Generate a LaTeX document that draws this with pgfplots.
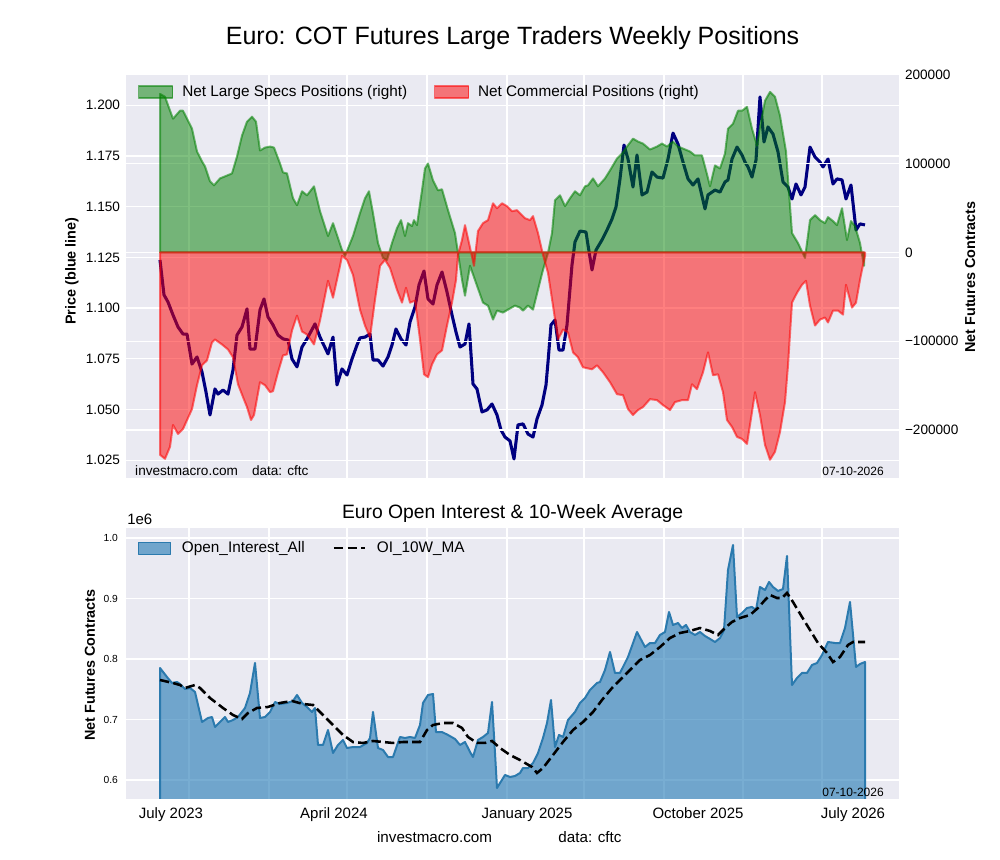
\documentclass[border=0pt]{standalone}
\usepackage{fontspec}
\setmainfont{Liberation Sans}
\usepackage{pgfplots}
\pgfplotsset{compat=1.18}
\usepackage{pgfplotstable}
\definecolor{bg}{HTML}{EAEAF2}
\definecolor{mplgreen}{HTML}{008000}
\definecolor{mplred}{HTML}{FF0000}
\definecolor{navyc}{HTML}{000080}
\definecolor{oiblue}{HTML}{1F77B4}
\definecolor{oiedge}{HTML}{2B7AAE}
\newcommand{\fs}[1]{\fontsize{#1}{1.2\dimexpr#1\relax}\selectfont}

% x = weekly time position (chart time scale), price in USD
\pgfplotstableread{
x p
160 1.1237
164 1.1065
168 1.1030
173 1.0966
178 1.0907
183 1.0872
187 1.0872
192 1.0724
197 1.0759
202 1.0685
206 1.0586
210 1.0473
215 1.0601
218 1.0576
223 1.0596
228 1.0576
233 1.0695
237 1.0867
242 1.0907
247 1.0996
250 1.0798
255 1.0798
260 1.0991
264 1.1045
268 1.0956
273 1.0917
278 1.0867
283 1.0848
288 1.0843
292 1.0749
297 1.0710
302 1.0808
307 1.0848
315 1.0922
320 1.0857
328 1.0774
333 1.0857
337 1.0621
342 1.0700
347 1.0670
352 1.0749
357 1.0818
360 1.0853
365 1.0857
370 1.0872
373 1.0744
378 1.0744
383 1.0714
388 1.0759
392 1.0818
396 1.0897
401 1.0848
406 1.0818
410 1.0931
415 1.1005
419 1.1114
424 1.1183
428 1.1045
433 1.1020
437 1.1114
442 1.1178
447 1.1079
452 1.0966
456 1.0882
460 1.0808
465 1.0823
469 1.0922
473 1.0626
477 1.0601
482 1.0488
487 1.0498
492 1.0527
497 1.0473
501 1.0399
505 1.0364
510 1.0345
514 1.0256
518 1.0424
523 1.0429
528 1.0379
533 1.0364
537 1.0453
542 1.0522
546 1.0621
548 1.0734
551 1.0917
555 1.0941
559 1.0793
563 1.0793
567 1.0917
572 1.1213
575 1.1326
580 1.1380
586 1.1375
588 1.1311
592 1.1188
596 1.1286
602 1.1336
607 1.1385
612 1.1439
616 1.1499
620 1.1637
624 1.1804
628 1.1735
633 1.1597
637 1.1755
642 1.1558
647 1.1572
652 1.1671
657 1.1646
663 1.1641
668 1.1735
673 1.1863
678 1.1809
683 1.1720
688 1.1637
693 1.1607
698 1.1637
705 1.1489
708 1.1558
715 1.1582
720 1.1572
725 1.1622
728 1.1632
732 1.1735
737 1.1794
742 1.1755
745 1.1720
748 1.1696
752 1.1646
756 1.1730
760 1.2041
764 1.1819
768 1.1893
773 1.1858
778 1.1770
783 1.1622
788 1.1597
792 1.1538
796 1.1612
801 1.1558
805 1.1597
810 1.1794
815 1.1745
820 1.1720
823 1.1696
828 1.1735
833 1.1612
837 1.1637
842 1.1632
846 1.1538
851 1.1607
856 1.1385
860 1.1415
865 1.1410
}\price

\pgfplotstableread{
x v
160 178600
165 175300
173 150600
180 159600
183 159600
192 139400
197 113700
202 102500
205 96900
210 80100
214 75600
220 83400
225 85700
232 89000
237 108100
242 131600
247 147300
252 152900
256 147300
260 114800
265 118100
270 119300
274 118100
280 100200
283 90100
287 89000
293 61000
297 53200
302 68900
307 64400
314 74500
320 46500
328 18500
333 33000
342 2800
345 -3900
353 18500
360 44200
365 61000
369 68900
373 44200
378 10600
383 -6200
387 -8400
392 10600
397 27400
401 36400
405 18500
408 33000
412 29700
414 36400
417 30800
422 70000
425 94600
428 100200
433 81200
438 70000
442 71100
448 47600
455 21800
458 -600
462 -30800
465 -48700
470 -15000
477 -37500
483 -56500
488 -59900
493 -75600
497 -65500
503 -67700
508 -64400
515 -59900
520 -62100
523 -65500
528 -59900
533 -64400
538 -42000
543 -19600
548 -600
552 21800
555 58800
560 64400
565 52100
570 61000
575 68900
580 64400
585 74500
588 75600
593 83400
598 74500
605 83400
610 92400
617 105800
622 111400
627 119300
633 128200
638 124900
643 122600
650 115900
657 119300
662 122600
667 119300
673 124900
678 119300
683 117000
690 113700
695 109200
702 109200
706 92400
710 74500
715 98000
720 94600
725 111400
728 139400
733 145000
738 159600
742 159600
747 164000
752 139400
757 120400
760 141700
765 170800
770 180800
775 175300
780 154000
786 113700
790 52100
792 21800
798 10600
805 -6200
810 36400
815 42000
820 36400
825 33000
828 39800
833 35300
837 30800
842 49800
847 14000
851 35300
855 29700
860 10600
864 -15100
}\specs

\pgfplotstableread{
x v
160 -227900
165 -232400
170 -218900
173 -194300
178 -204400
183 -198800
192 -176400
197 -149500
202 -127100
207 -121500
212 -101300
215 -98000
222 -103600
228 -109200
233 -118100
238 -148400
243 -162900
247 -174100
251 -188700
254 -183100
260 -146100
265 -149500
270 -157300
273 -156200
278 -134900
283 -115900
287 -114800
292 -87900
297 -71100
302 -89000
307 -92400
314 -103600
320 -76700
328 -31900
333 -51000
340 -15100
342 -3900
347 -8400
353 -25200
360 -64400
365 -82300
370 -95700
375 -53200
380 -15100
385 -8400
390 -17400
397 -42000
402 -56500
406 -39800
410 -56500
415 -54300
420 -98000
424 -137200
428 -140500
432 -126000
437 -114800
442 -110300
447 -82300
452 -56500
456 -30800
458 -2800
462 14000
465 30800
469 10600
474 -15100
478 24100
483 33000
488 36400
493 55400
497 49800
502 55400
507 52100
512 46500
517 47600
520 44200
525 38600
530 36400
533 40900
538 21800
543 -2800
548 -23000
553 -59900
558 -98000
563 -86800
568 -90100
573 -112500
578 -118100
583 -129300
592 -131600
597 -127100
603 -134900
610 -146100
617 -159600
623 -160700
628 -176400
633 -183100
638 -177500
643 -174100
650 -165200
657 -166300
663 -171900
670 -177500
675 -168500
682 -166300
688 -166300
692 -148400
697 -154000
703 -134900
708 -112500
713 -138300
718 -137200
723 -157300
727 -188700
732 -196500
737 -207700
742 -210000
747 -215600
752 -179700
755 -157300
760 -183100
765 -216700
770 -233500
775 -224500
780 -202100
785 -168500
788 -127100
792 -56500
797 -45400
802 -36400
806 -31900
810 -59900
815 -82300
820 -75600
825 -73300
828 -78900
833 -65500
838 -65500
843 -70000
846 -36400
852 -62100
856 -56500
860 -30800
863 -14000
865 -3900
}\comm

% open interest in millions of contracts
\pgfplotstableread{
x v
160 0.7851
167 0.7702
172 0.7603
177 0.7620
180 0.7587
185 0.7504
190 0.7521
195 0.7455
202 0.6959
208 0.7025
212 0.7041
215 0.6876
220 0.6959
225 0.7041
228 0.6959
233 0.6992
238 0.7041
245 0.7190
250 0.7438
255 0.7934
260 0.7025
265 0.7041
270 0.7124
275 0.7289
280 0.7256
287 0.7273
293 0.7306
297 0.7405
302 0.7273
307 0.7207
312 0.7124
315 0.7190
318 0.6579
323 0.6579
328 0.6826
333 0.6446
338 0.6579
343 0.6661
347 0.6529
353 0.6545
360 0.6545
367 0.6612
370 0.6694
373 0.7124
378 0.6529
383 0.6496
388 0.6380
393 0.6380
400 0.6711
405 0.6694
410 0.6711
415 0.6694
420 0.6909
423 0.7273
428 0.7405
433 0.7421
436 0.6793
442 0.6793
448 0.6744
455 0.6678
460 0.6579
465 0.6628
470 0.6463
473 0.6380
478 0.6661
483 0.6711
488 0.6777
492 0.7289
495 0.6446
497 0.5868
505 0.6083
510 0.6050
515 0.6066
520 0.6116
523 0.6198
528 0.6198
533 0.6281
538 0.6446
543 0.6694
547 0.6942
551 0.7322
555 0.6545
559 0.6744
563 0.6711
568 0.6992
575 0.7124
580 0.7273
585 0.7355
590 0.7488
597 0.7603
600 0.7620
605 0.7818
610 0.8116
615 0.7769
620 0.7769
628 0.8033
637 0.8446
645 0.8198
650 0.8264
655 0.8264
660 0.8397
665 0.8446
669 0.8777
673 0.8562
678 0.8595
682 0.8512
686 0.8562
690 0.8446
695 0.8397
700 0.8446
705 0.8380
710 0.8331
715 0.8281
720 0.8347
724 0.8479
728 0.9471
733 0.9884
737 0.8694
742 0.8760
747 0.8843
752 0.8860
756 0.8810
760 0.9190
765 0.9140
769 0.9273
773 0.9190
778 0.9124
783 0.9157
787 0.9702
792 0.7570
797 0.7686
802 0.7769
807 0.7769
812 0.7901
817 0.7934
822 0.8066
828 0.8281
835 0.8264
840 0.8264
845 0.8512
850 0.8942
856 0.7868
860 0.7917
865 0.7950
}\oi

\pgfplotstableread{
x v
160 0.7653
173 0.7603
180 0.7570
185 0.7521
195 0.7570
200 0.7521
210 0.7355
223 0.7190
233 0.7074
242 0.7008
248 0.7107
257 0.7190
268 0.7207
280 0.7273
292 0.7306
303 0.7256
313 0.7240
323 0.7074
333 0.6909
343 0.6744
353 0.6628
363 0.6612
373 0.6645
383 0.6628
393 0.6612
403 0.6628
413 0.6628
420 0.6628
427 0.6826
433 0.6909
443 0.6942
453 0.6942
462 0.6860
468 0.6711
477 0.6612
485 0.6612
492 0.6645
500 0.6529
510 0.6413
520 0.6330
532 0.6215
537 0.6116
543 0.6198
553 0.6413
563 0.6628
573 0.6826
583 0.6959
593 0.7124
602 0.7322
612 0.7521
620 0.7653
630 0.7818
640 0.7983
650 0.8066
660 0.8198
670 0.8347
680 0.8430
690 0.8463
700 0.8512
710 0.8463
718 0.8397
725 0.8512
732 0.8612
740 0.8678
750 0.8727
758 0.8843
765 0.8975
770 0.9058
777 0.9008
782 0.9008
787 0.9091
793 0.8942
802 0.8694
810 0.8479
818 0.8264
827 0.8099
833 0.7950
840 0.8033
848 0.8231
853 0.8281
865 0.8281
}\ma

\pgfplotsset{
  base/.style={
    scale only axis, anchor=south west,
    width=579.75pt,
    xmin=126, xmax=899,
    axis line style={draw=none},
    major tick length=0pt,
    grid style={white, line width=0.9pt},
    /pgf/number format/assume math mode=true,
  },
}

\begin{document}
\begin{tikzpicture}
\path[use as bounding box] (0,0) rectangle (750pt,645pt);

\node[font=\fs{18.75pt}] at (384.4pt,616.5pt) {Euro: COT Futures Large Traders Weekly Positions};

% ---------- top panel, left axis (price)
\begin{axis}[base,
  at={(94.5pt,286.5pt)}, height=303pt,
  ymin=1.01622, ymax=1.21543,
  axis background/.style={fill=bg},
  xtick={189,269,347,427,507,584,664,743,822}, xticklabels={},
  ytick={1.025,1.050,1.075,1.100,1.125,1.150,1.175,1.200},
  yticklabels={1.025,1.050,1.075,1.100,1.125,1.150,1.175,1.200},
  yticklabel style={font=\fs{10.2pt}, xshift=-1pt},
  grid=major,
  ylabel={\textbf{Price (blue line)}},
  every axis y label/.style={at={(axis description cs:-0.0699,0.512)}, anchor=center, rotate=90, font=\fs{10.8pt}},
]
\addplot[navyc, line width=2.3pt, line join=round] table[x=x,y=p] {\price};
\node[anchor=base west, font=\fs{10.2pt}, inner sep=0pt] at (axis description cs:0.0116,0.0074) {investmacro.com\hspace{10.5pt}data: cftc};
\node[anchor=base east, font=\fs{9pt}, inner sep=0pt] at (axis description cs:0.9806,0.0074) {07-10-2026};
\end{axis}

% ---------- top panel, right axis (net positions)
\begin{axis}[base,
  at={(94.5pt,286.5pt)}, height=303pt,
  ymin=-254000, ymax=201000,
  axis x line=none, axis y line*=right,
  xtick=\empty,
  scaled y ticks=false,
  ytick={-200000,-100000,0,100000,200000},
  yticklabels={−200000,−100000,0,100000,200000},
  yticklabel style={font=\fs{10.2pt}, xshift=1pt},
  ymajorgrids=true,
  ylabel={\textbf{Net Futures Contracts}},
  every axis y label/.style={at={(axis description cs:1.0919,0.4975)}, anchor=center, rotate=90, font=\fs{10.8pt}},
  legend style={at={(axis description cs:0.0155,0.9554)}, anchor=west, draw=none, fill=none,
    font=\fs{11.5pt}, inner sep=0pt, legend columns=2,
    /tikz/every odd column/.append style={column sep=4.75pt},
    /tikz/every even column/.append style={column sep=18pt}},
  legend image code/.code={\draw[#1, line width=0.8pt] (0pt,-4.5pt) rectangle (25.5pt,4.5pt);},
]
\addplot[fill=mplgreen, fill opacity=0.5, draw=mplgreen, draw opacity=0.55, line width=1.5pt, line join=round]
  table[x=x,y=v] {\specs} -- (axis cs:864,0) -- (axis cs:160,0) -- cycle;
\addlegendentry{Net Large Specs Positions (right)}
\addplot[fill=mplred, fill opacity=0.5, draw=mplred, draw opacity=0.55, line width=1.5pt, line join=round]
  table[x=x,y=v] {\comm} -- (axis cs:865,0) -- (axis cs:160,0) -- cycle;
\addlegendentry{Net Commercial Positions (right)}
\end{axis}

% ---------- bottom panel
\node[font=\fs{14.5pt}] at (384.4pt,259.5pt) {Euro Open Interest \& 10-Week Average};
\node[font=\fs{11.25pt}, anchor=west, inner sep=0pt] at (95.25pt,255.75pt) {1e6};

\begin{axis}[base,
  at={(94.5pt,45.75pt)}, height=203.25pt,
  ymin=0.5686, ymax=1.0165,
  axis background/.style={fill=bg},
  xtick={189,269,347,427,507,584,664,743,822}, xticklabels={},
  extra x ticks={171,334,527,698,853},
  extra x tick labels={July 2023,April 2024,January 2025,October 2025,July 2026},
  extra x tick style={grid=none, major tick length=0pt, xticklabel style={font=\fs{11.25pt}, yshift=-3pt}},
  ytick={0.6,0.7,0.8,0.9,1.0},
  yticklabels={0.6,0.7,0.8,0.9,1.0},
  yticklabel style={font=\fs{7.7pt}, xshift=-2.5pt},
  grid=major,
  ylabel={\textbf{Net Futures Contracts}},
  every axis y label/.style={at={(axis description cs:-0.0466,0.494)}, anchor=center, rotate=90, font=\fs{10.8pt}},
  legend style={at={(axis description cs:0.0155,0.926)}, anchor=west, draw=none, fill=none,
    font=\fs{11.5pt}, inner sep=0pt, legend columns=2,
    /tikz/every odd column/.append style={column sep=6pt},
    /tikz/every even column/.append style={column sep=19pt}},
]
\addplot[fill=oiblue, fill opacity=0.6, draw=oiedge, line width=1.5pt, line join=round,
  legend image code/.code={\draw[fill=oiblue, fill opacity=0.6, draw=oiedge, line width=0.8pt] (0pt,-4.5pt) rectangle (24pt,4.5pt);}]
  table[x=x,y=v] {\oi} -- (axis cs:865,0) -- (axis cs:160,0) -- cycle;
\addlegendentry{Open\_Interest\_All}
\addplot[black, line width=1.9pt, dash pattern=on 7pt off 3.2pt,
  legend image code/.code={\draw[black, line width=1.9pt, dash pattern=on 7pt off 3.2pt] (0pt,0pt) -- (23.25pt,0pt);}]
  table[x=x,y=v] {\ma};
\addlegendentry{OI\_10W\_MA}
\node[anchor=base east, font=\fs{9pt}, inner sep=0pt] at (axis description cs:0.9806,0.0074) {07-10-2026};
\end{axis}

\node[font=\fs{11.4pt}] at (325.9pt,17.25pt) {investmacro.com};
\node[font=\fs{11.4pt}] at (442.5pt,17.25pt) {data: cftc};
\end{tikzpicture}
\end{document}
